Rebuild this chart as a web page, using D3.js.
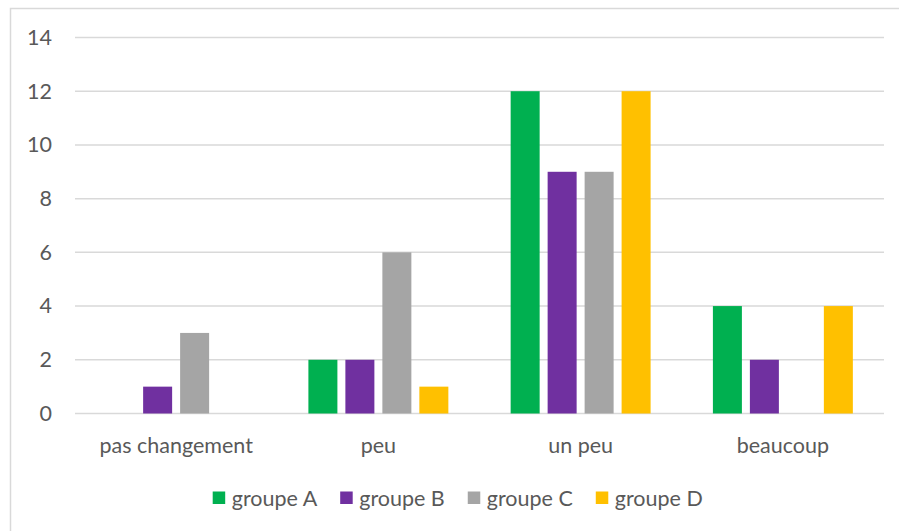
<!DOCTYPE html>
<html>
<head>
<meta charset="utf-8">
<script src="https://cdn.jsdelivr.net/npm/d3@7"></script>
<style>
  body { margin: 0; background: #fff; }
  text { font-family: Lato, "Open Sans", sans-serif; fill: #595959; }
</style>
</head>
<body>
<script>
// data
var categories = ["pas changement", "peu", "un peu", "beaucoup"];
var groups = ["groupe A", "groupe B", "groupe C", "groupe D"];
var groupeA = [0, 2, 12, 4];
var groupeB = [1, 2, 9, 2];
var groupeC = [3, 6, 9, 0];
var groupeD = [0, 1, 12, 4];
var yTicks = [0, 2, 4, 6, 8, 10, 12, 14];
var colors = ["#00b050", "#7030a0", "#a5a5a5", "#ffc000"];

var series = [groupeA, groupeB, groupeC, groupeD];

var W = 899, H = 531;
var margin = {top: 37.5, right: 15, bottom: 117.5, left: 75};
var width = W - margin.left - margin.right;
var height = H - margin.top - margin.bottom;
var fontSize = "21.5px";

var svg = d3.select("body").append("svg")
    .attr("width", W)
    .attr("height", H);

// cadre du graphique
svg.append("rect")
    .attr("x", 10.5).attr("y", 8.5)
    .attr("width", W).attr("height", H)
    .attr("fill", "none")
    .attr("stroke", "#d9d9d9")
    .attr("stroke-width", 1.5);

var g = svg.append("g")
    .attr("transform", "translate(" + margin.left + "," + margin.top + ")");

// scales
var x0 = d3.scaleBand().domain(categories).range([0, width])
    .paddingInner(0.308).paddingOuter(0.154);
var x1 = d3.scaleBand().domain(groups).range([0, x0.bandwidth()])
    .paddingInner(0.216).paddingOuter(0);
var y = d3.scaleLinear().domain([0, 14]).range([height, 0]);

// grid
g.selectAll("line.grid")
    .data(yTicks)
    .enter().append("line")
    .attr("class", "grid")
    .attr("x1", 0).attr("x2", width)
    .attr("y1", function(d) { return y(d); })
    .attr("y2", function(d) { return y(d); })
    .attr("stroke", "#d9d9d9")
    .attr("stroke-width", 1.5);

// y axis labels
var yAxis = d3.axisLeft(y).tickValues(yTicks).tickSize(0).tickPadding(23);
var yAxisGroup = g.append("g").call(yAxis);
yAxisGroup.select(".domain").remove();
yAxisGroup.selectAll("text")
    .attr("font-size", fontSize)
    .attr("font-family", null)
    .style("fill", "#595959");

// x axis labels
var xAxis = d3.axisBottom(x0).tickSize(0).tickPadding(24);
var xAxisGroup = g.append("g")
    .attr("transform", "translate(0," + height + ")")
    .call(xAxis);
xAxisGroup.select(".domain").remove();
xAxisGroup.selectAll("text")
    .attr("font-size", fontSize)
    .attr("font-family", null)
    .style("fill", "#595959");

// bars
var cat = g.selectAll("g.cat")
    .data(categories)
    .enter().append("g")
    .attr("class", "cat")
    .attr("transform", function(d) { return "translate(" + x0(d) + ",0)"; });

cat.selectAll("rect")
    .data(function(d, i) {
        return groups.map(function(gr, j) { return {group: gr, value: series[j][i], color: colors[j]}; });
    })
    .enter().append("rect")
    .attr("x", function(d) { return x1(d.group); })
    .attr("y", function(d) { return y(d.value); })
    .attr("width", x1.bandwidth())
    .attr("height", function(d) { return height - y(d.value); })
    .attr("fill", function(d) { return d.color; });

// legend
var legend = svg.append("g").attr("transform", "translate(0,498)");
var lx = 212.7;
groups.forEach(function(gr, i) {
    var item = legend.append("g").attr("transform", "translate(" + lx + ",0)");
    item.append("rect")
        .attr("x", 0).attr("y", -6.5)
        .attr("width", 12.5).attr("height", 12.5)
        .attr("fill", colors[i]);
    var t = item.append("text")
        .attr("x", 19).attr("y", 0)
        .attr("dy", "0.35em")
        .attr("font-size", fontSize)
        .text(gr);
    lx += 19 + t.node().getComputedTextLength() + 23;
});
</script>
</body>
</html>
